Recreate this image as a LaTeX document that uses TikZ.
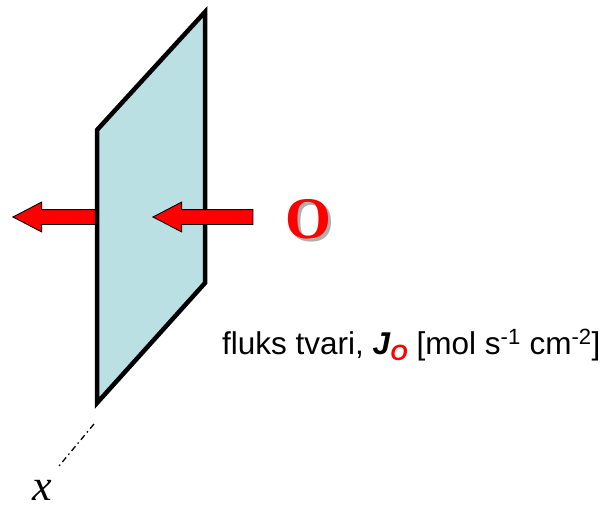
\documentclass[tikz,border=0pt]{standalone}
\usepackage{fontspec}
\setmainfont{Liberation Sans}
\newfontfamily\timesfont{Liberation Serif}
\usetikzlibrary{shapes.arrows, positioning}
\definecolor{planeblue}{RGB}{187, 224, 227}
\definecolor{fluxred}{RGB}{255, 0, 0}
\definecolor{shadowgray}{RGB}{175, 175, 175}

\begin{document}
\begin{tikzpicture}[x=1pt, y=-1pt,
    plane/.style={draw=black, line width=4.5pt, line join=miter, fill=planeblue},
    blockarrow/.style={single arrow, shape border rotate=180, draw=black, line width=0.9pt,
        fill=fluxred, inner xsep=0pt, inner ysep=7pt, single arrow head extend=7.5pt,
        single arrow tip angle=55, anchor=tip},
    axisline/.style={black, line width=1.3pt, dash pattern=on 6pt off 3.5pt on 1.5pt off 3.5pt},
    bigletter/.style={font=\timesfont\bfseries\fontsize{59}{59}\selectfont, inner sep=0pt}
]
\useasboundingbox (0,0) rectangle (605,507);

% Outgoing flux (behind the membrane)
\node[blockarrow, minimum height=84pt] (outarrow) at (12,217) {};

% Membrane
\coordinate (ptl) at (97,130);
\coordinate (ptr) at (205,12);
\coordinate (pbr) at (205,283);
\coordinate (pbl) at (97,403);
\draw[plane] (ptl) -- (ptr) -- (pbr) -- (pbl) -- cycle;

% Incoming flux
\node[blockarrow, minimum height=100pt] (inarrow) at (152,217) {};

% Species O with shadow
\node[bigletter, text=fluxred] (species) at (308,221)
    {\makebox[0pt][l]{\hspace{3pt}\raisebox{-3pt}{\color{shadowgray}O}}O};

% Flux label
\node[anchor=base west, inner sep=0pt, font=\fontsize{31.5}{31.5}\selectfont] (fluxlabel) at (222,354)
    {fluks tvari, {\bfseries\itshape J\textsubscript{\color{fluxred}O}} [mol s\textsuperscript{-1} cm\textsuperscript{-2}]};

% x axis
\coordinate (xstart) at (94,424);
\coordinate (xend) at (59,466);
\draw[axisline] (xstart) -- (xend);
\node[font=\timesfont\itshape\fontsize{44}{44}\selectfont, inner sep=0pt] (xlab) at (42,490) {x};

\end{tikzpicture}
\end{document}
